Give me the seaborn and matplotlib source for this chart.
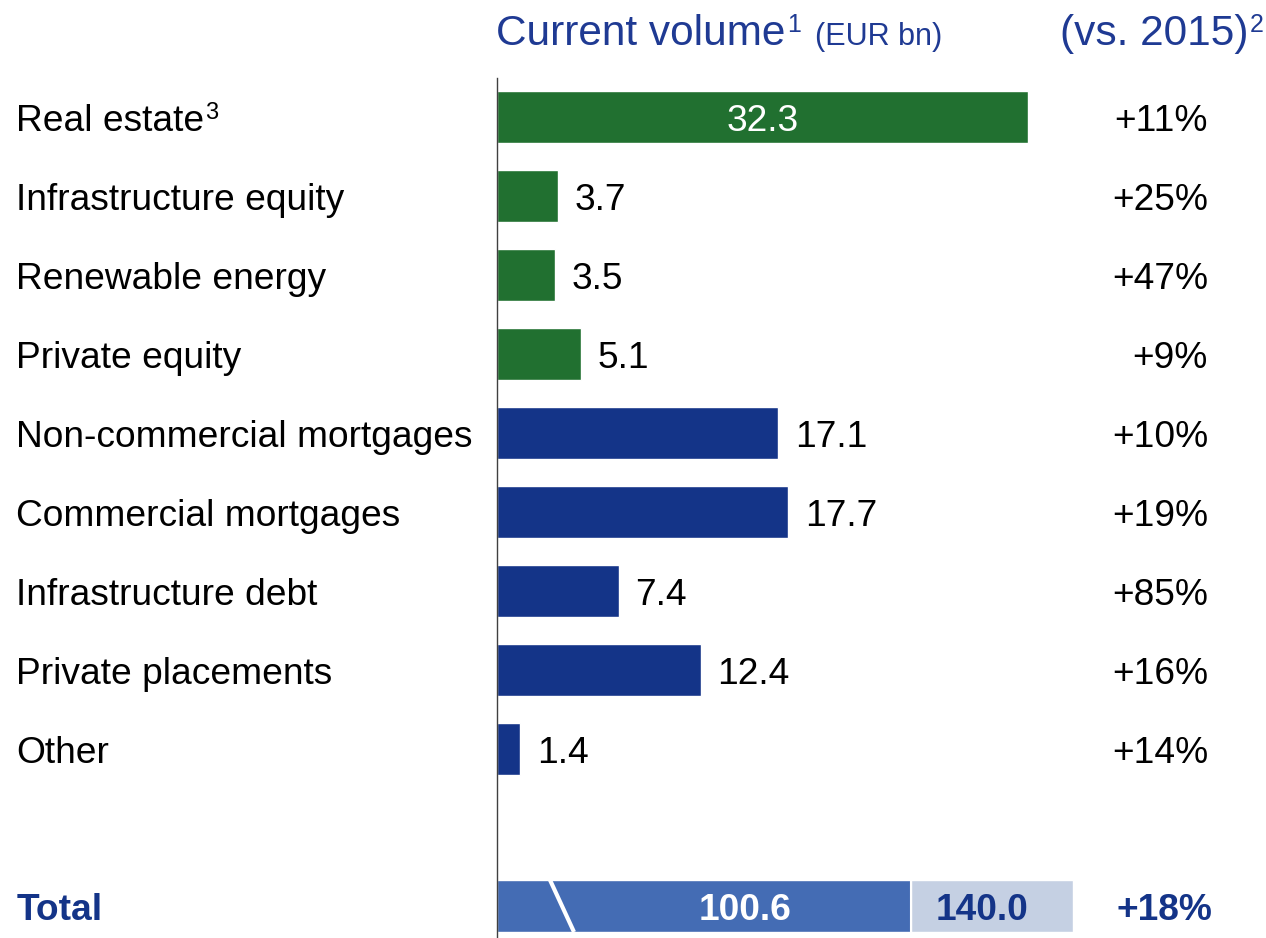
import matplotlib
matplotlib.use("Agg")
import matplotlib.pyplot as plt
from matplotlib.transforms import blended_transform_factory
import pandas as pd
import seaborn as sns

# Asset classes and their current volumes (EUR bn)
categories = [
    "Real estate", "Infrastructure equity", "Renewable energy", "Private equity",
    "Non-commercial mortgages", "Commercial mortgages", "Infrastructure debt",
    "Private placements", "Other",
]
footnotes = ["3", "", "", "", "", "", "", "", ""]
volumes = [32.3, 3.7, 3.5, 5.1, 17.1, 17.7, 7.4, 12.4, 1.4]
groups = ["equity", "equity", "equity", "equity", "debt", "debt", "debt", "debt", "debt"]
changes = ["+11%", "+25%", "+47%", "+9%", "+10%", "+19%", "+85%", "+16%", "+14%"]

# Total row
total_current = 100.6
total_target = 140.0
total_change = "+18%"

GREEN = "#217030"
BLUE = "#143488"
TOTAL_DARK = "#446CB4"
TOTAL_LIGHT = "#C5D0E3"
NAVY = "#1F3A93"

sns.set_theme(style="white")
plt.rcParams["font.family"] = ["Liberation Sans", "DejaVu Sans"]

W, H = 1266, 938
fig = plt.figure(figsize=(W / 100, H / 100), dpi=100)

# Main axes: left edge is the vertical baseline of the bars
ax_left, ax_w = 497, 769
ax_top, ax_bot = 78, 938
ax = fig.add_axes([ax_left / W, (H - ax_bot) / H, ax_w / W, (ax_bot - ax_top) / H])

df = pd.DataFrame({"category": categories, "volume": volumes, "group": groups})
sns.barplot(data=df, x="volume", y="category", hue="group",
            palette={"equity": GREEN, "debt": BLUE}, orient="h",
            dodge=False, width=0.65, legend=False, ax=ax, saturation=1)

px_per_unit = 531 / 32.3
ax.set_xlim(0, ax_w / px_per_unit)
ax.set_ylim(10.39, -0.494)
ax.set_xlabel("")
ax.set_ylabel("")
ax.set_xticks([])
ax.set_yticks([])
for side in ("top", "right", "bottom"):
    ax.spines[side].set_visible(False)
ax.spines["left"].set_color("#404040")
ax.spines["left"].set_linewidth(1.0)
ax.set_facecolor("none")
ax.set_zorder(3)


def footnote_mark(anchor, mark, size, color):
    """Small raised footnote number placed right after a text artist."""
    ax.annotate(mark, xy=(1.0, 1.0), xycoords=anchor, xytext=(1, 1),
                textcoords="offset points", ha="left", va="top",
                fontsize=size, color=color, annotation_clip=False)


FS = 26.7
label_tr = blended_transform_factory(fig.transFigure, ax.transData)
for i, (cat, note, val, chg) in enumerate(zip(categories, footnotes, volumes, changes)):
    t = ax.text(16 / W, i, cat, transform=label_tr, ha="left", va="center_baseline",
                fontsize=FS, color="black")
    if note:
        footnote_mark(t, note, 17, "black")
    if val > 25:
        ax.text(val / 2, i, f"{val:.1f}", ha="center", va="center_baseline",
                fontsize=FS, color="white")
    else:
        ax.annotate(f"{val:.1f}", xy=(val, i), xytext=(12, 0),
                    textcoords="offset points", ha="left", va="center_baseline",
                    fontsize=FS, color="black")
    ax.text(1208 / W, i, chg, transform=label_tr, ha="right", va="center_baseline",
            fontsize=FS, color="black")

# Total row: light target bar with the current volume stacked on top
tot_top, tot_bot = 880, 932
ax_t = fig.add_axes([ax_left / W, (H - tot_bot) / H, ax_w / W, (tot_bot - tot_top) / H])
tot_df = pd.DataFrame({"row": ["Total"], "target": [total_target], "current": [total_current]})
sns.barplot(data=tot_df, x="target", y="row", color=TOTAL_LIGHT, orient="h",
            width=1.0, ax=ax_t, saturation=1)
sns.barplot(data=tot_df, x="current", y="row", color=TOTAL_DARK, orient="h",
            width=1.0, ax=ax_t, saturation=1)
tot_px_per_unit = (1073 - ax_left) / total_target
ax_t.set_xlim(0, ax_w / tot_px_per_unit)
ax_t.set_ylim(0.5, -0.5)
ax_t.axis("off")
ax_t.set_zorder(1)
# thin white seam between the two segments
ax_t.axvline(total_current, color="white", lw=1.5)
# axis-break slash
ax_t.plot([(550 - ax_left) / tot_px_per_unit, (574 - ax_left) / tot_px_per_unit],
          [-0.5, 0.5], color="white", lw=3, solid_capstyle="butt", clip_on=True)
ax_t.text(total_current / 2 + 10, 0, f"{total_current:.1f}", ha="center",
          va="center_baseline", fontsize=FS, fontweight="bold", color="white")
ax_t.text((total_current + total_target) / 2 - 2.5, 0, f"{total_target:.1f}", ha="center",
          va="center_baseline", fontsize=FS, fontweight="bold", color=BLUE)
tot_tr = blended_transform_factory(fig.transFigure, ax_t.transData)
ax_t.text(17 / W, 0, "Total", transform=tot_tr, ha="left", va="center_baseline",
          fontsize=FS, fontweight="bold", color=BLUE)
ax_t.text(1212 / W, 0, total_change, transform=tot_tr, ha="right",
          va="center_baseline", fontsize=FS, fontweight="bold", color=BLUE)

# Column headers
HDR = 30.5
h1 = fig.text(496 / W, 1 - 45 / H, "Current volume", ha="left", va="baseline",
              fontsize=HDR, color=NAVY)
footnote_mark(h1, "1", 18, NAVY)
fig.text(815 / W, 1 - 45 / H, "(EUR bn)", ha="left", va="baseline",
         fontsize=22, color=NAVY)
h2 = fig.text(1060 / W, 1 - 45 / H, "(vs. 2015)", ha="left", va="baseline",
              fontsize=HDR, color=NAVY)
footnote_mark(h2, "2", 18, NAVY)

fig.savefig("out.png", dpi=100, facecolor="white")
